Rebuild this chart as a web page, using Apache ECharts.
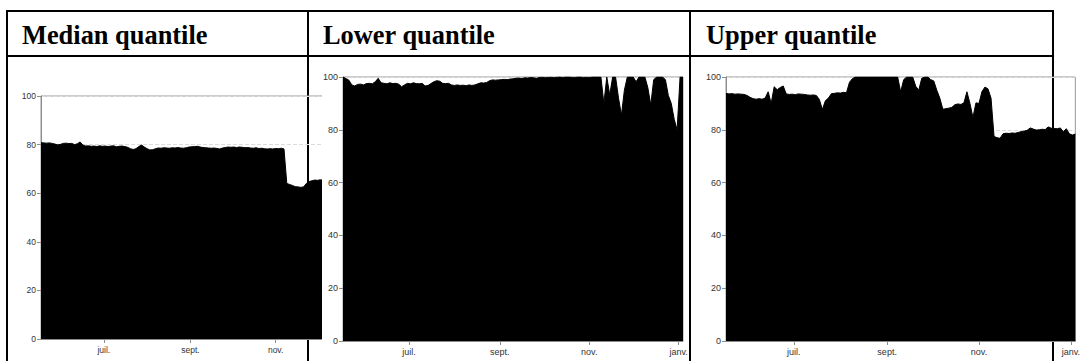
<!DOCTYPE html>
<html>
<head>
<meta charset="utf-8">
<script src="https://cdn.jsdelivr.net/npm/echarts@6/dist/echarts.min.js"></script>
<style>
  html, body { margin: 0; padding: 0; background: #fff; }
  body { width: 1083px; height: 361px; overflow: hidden; position: relative; }
  .rule { position: absolute; background: #000; }
  .head {
    position: absolute; top: 22px; white-space: nowrap; color: #000;
    font: bold 26.4px/26px 'Liberation Serif', 'Times New Roman', serif;
  }
  .chart { position: absolute; left: 0; top: 0; width: 1083px; height: 361px; }
  #clip1 { position: absolute; left: 0; top: 0; width: 322px; height: 361px; overflow: hidden; }
</style>
</head>
<body>
  <!-- table rules -->
  <div class="rule" style="left:6px;top:10px;width:1048px;height:2px"></div>
  <div class="rule" style="left:6px;top:55px;width:1048px;height:2px"></div>
  <div class="rule" style="left:6px;top:10px;width:2px;height:351px"></div>
  <div class="rule" style="left:307px;top:10px;width:2px;height:351px"></div>
  <div class="rule" style="left:689px;top:10px;width:2px;height:351px"></div>
  <div class="rule" style="left:1052px;top:10px;width:2px;height:351px"></div>

  <div class="head" style="left:22px">Median quantile</div>
  <div class="head" style="left:323px">Lower quantile</div>
  <div class="head" style="left:706px">Upper quantile</div>

  <div id="clip1"><div id="c1" class="chart"></div></div>
  <div id="c2" class="chart"></div>
  <div id="c3" class="chart"></div>

<script>
// Sampling: one value every two days from 17 May to 4 Jan
const START = [2020, 4, 17];
const END = [2021, 0, 4];
const STEP_DAYS = 2;

// Month ticks on the date axis
const TICK_DATES = [[2020, 6, 1], [2020, 8, 1], [2020, 10, 1], [2021, 0, 1]];
const TICK_LABELS = ['juil.', 'sept.', 'nov.', 'janv.'];

// Median quantile (%)
const MEDIAN = [
  80.8, 80.7, 80.6, 80.7, 80.5, 80.2, 79.9, 80.1, 80.5, 80.6,
  80.4, 80.5, 80.0, 80.3, 81.1, 79.8, 79.4, 79.5, 79.3, 79.4,
  79.2, 79.5, 79.3, 79.4, 79.2, 79.4, 79.5, 79.1, 79.3, 79.4,
  79.2, 78.9, 78.3, 78.0, 78.3, 79.2, 79.8, 79.0, 78.3, 77.8,
  77.9, 78.3, 78.6, 78.5, 78.7, 78.6, 78.5, 78.7, 78.6, 78.8,
  78.6, 78.5, 78.7, 79.0, 79.1, 79.2, 79.3, 79.0, 78.8, 78.7,
  78.6, 78.5, 78.6, 78.4, 78.2, 78.6, 78.8, 79.0, 78.9, 79.0,
  78.8, 79.0, 78.9, 78.7, 78.8, 78.6, 78.5, 78.7, 78.4, 78.5,
  78.3, 78.2, 78.3, 78.2, 78.4, 78.3, 78.5, 78.2, 64.0, 63.6,
  63.2, 62.7, 62.6, 62.4, 62.6, 64.0, 64.8, 65.1, 65.4, 65.3,
  65.5, 65.4
];

// Lower quantile (%)
const LOWER = [
  100, 99.4, 98.8, 97.0, 96.6, 97.2, 97.3, 97.0, 97.5, 97.6,
  97.4, 98.2, 99.5, 97.8, 97.6, 97.4, 97.8, 97.5, 97.6, 97.3,
  96.3, 97.0, 97.6, 97.4, 97.8, 97.5, 97.4, 97.6, 96.6, 96.8,
  97.5, 98.2, 98.6, 98.4, 97.6, 97.5, 97.6, 97.0, 96.8, 97.0,
  96.8, 96.9, 96.7, 97.0, 96.8, 97.0, 97.4, 97.8, 97.7, 97.9,
  98.6, 98.9, 98.8, 98.9, 99.0, 99.1, 99.0, 99.2, 99.3, 99.5,
  99.6, 99.4, 99.7, 99.6, 99.8, 99.7, 99.5, 99.8, 99.9, 99.7,
  99.8, 99.9, 99.7, 99.9, 100, 99.8, 100, 100, 99.9, 99.8,
  100, 100, 99.8, 99.9, 99.8, 100, 100, 100, 100, 90.0,
  100, 93.2, 100, 100, 92.0, 85.6, 95.0, 100, 100, 100,
  98.2, 100, 100, 100, 96.0, 89.4, 99.0, 100, 100, 100,
  99.0, 93.0, 90.0, 84.0, 80.0, 100, 100
];

// Upper quantile (%)
const UPPER = [
  93.8, 93.6, 93.7, 93.5, 93.6, 93.5, 93.4, 93.0, 92.3, 91.8,
  91.6, 91.8, 91.6, 92.0, 94.4, 90.0, 96.3, 95.2, 96.0, 96.6,
  93.6, 93.4, 93.5, 93.3, 93.6, 93.5, 93.4, 93.2, 93.1, 93.2,
  93.0, 91.5, 87.7, 91.0, 92.0, 93.7, 93.8, 94.0, 93.9, 94.2,
  94.0, 98.0, 99.4, 100, 100, 100, 100, 100, 100, 100,
  100, 100, 100, 100, 100, 100, 100, 100, 94.4, 99.0,
  100, 100, 100, 96.5, 95.0, 99.5, 100, 100, 99.0, 98.5,
  95.0, 92.0, 87.8, 88.0, 88.2, 88.5, 89.5, 89.8, 89.6, 90.2,
  94.4, 90.0, 84.7, 90.2, 90.0, 94.5, 96.2, 95.5, 92.0, 77.5,
  77.0, 76.8, 78.5, 78.7, 78.6, 78.8, 78.7, 79.0, 79.3, 79.5,
  79.8, 80.7, 80.3, 79.9, 80.0, 80.2, 80.1, 81.1, 80.6, 80.5,
  80.4, 80.7, 79.3, 80.4, 78.5, 78.0, 78.4
];

const ts = (d) => +new Date(d[0], d[1], d[2]);
const X_MIN = ts(START);
const X_MAX = ts(END);
const TICK_TS = TICK_DATES.map(ts);

function toSeries(values) {
  return values.map((v, i) => [+new Date(START[0], START[1], START[2] + STEP_DAYS * i), v]);
}

function tickLabel(v) {
  const k = TICK_TS.findIndex((t) => Math.abs(t - v) < 43200000);
  return k >= 0 ? TICK_LABELS[k] : '';
}

const AXIS_GREY = '#8c8c8c';
const TEXT_GREY = '#333';
const LABEL_FONT = 'Liberation Sans, Arial, sans-serif';

function buildOption(values, grid, fontSize, ticks) {
  return {
    animation: false,
    backgroundColor: 'transparent',
    grid: Object.assign({
      show: true, borderColor: '#999', borderWidth: 1,
      backgroundColor: 'transparent', containLabel: false
    }, grid),
    xAxis: {
      type: 'value', min: X_MIN, max: X_MAX,
      axisLine: { show: true, onZero: false, lineStyle: { color: AXIS_GREY, width: 1 } },
      axisTick: { show: true, length: 4, customValues: ticks, lineStyle: { color: AXIS_GREY } },
      axisLabel: {
        customValues: ticks, formatter: tickLabel, margin: 6,
        fontSize: fontSize, color: TEXT_GREY, fontFamily: LABEL_FONT
      },
      splitLine: { show: false }
    },
    yAxis: {
      type: 'value', min: 0, max: 100, interval: 20,
      axisLine: { show: true, onZero: false, lineStyle: { color: AXIS_GREY, width: 1 } },
      axisTick: { show: true, length: 4, lineStyle: { color: AXIS_GREY } },
      axisLabel: { margin: 5, fontSize: fontSize, color: TEXT_GREY, fontFamily: LABEL_FONT },
      splitLine: { show: true, lineStyle: { color: '#dcdcdc', type: 'dashed', width: 1 } }
    },
    series: [{
      type: 'line',
      data: toSeries(values),
      symbol: 'none',
      showSymbol: false,
      silent: true,
      lineStyle: { color: '#000', width: 1 },
      areaStyle: { color: '#000', opacity: 1 }
    }]
  };
}

// The median panel is narrower than its plot; only its first three months are in view
const panels = [
  { id: 'c1', values: MEDIAN, grid: { left: 41, top: 96, width: 324, height: 243 }, fontSize: 8.5, ticks: TICK_TS.slice(0, 3) },
  { id: 'c2', values: LOWER, grid: { left: 343, top: 77, width: 340, height: 264 }, fontSize: 9, ticks: TICK_TS },
  { id: 'c3', values: UPPER, grid: { left: 726, top: 77, width: 355, height: 264 }, fontSize: 9, ticks: TICK_TS }
];

panels.forEach((p) => {
  const chart = echarts.init(document.getElementById(p.id), null, { renderer: 'svg' });
  chart.setOption(buildOption(p.values, p.grid, p.fontSize, p.ticks));
});
</script>
</body>
</html>
